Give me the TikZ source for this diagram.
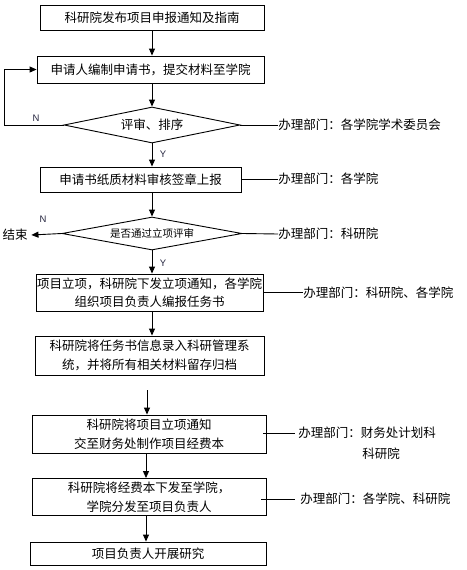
\documentclass[tikz,border=0pt]{standalone}
\usepackage{fontspec}
\setmainfont{Noto Sans CJK SC}
\newfontfamily\latinsf{Liberation Sans}
\usetikzlibrary{shapes.geometric,arrows.meta}
\definecolor{yncol}{rgb}{0.15,0.15,0.25}
\begin{document}
\begin{tikzpicture}[x=1pt,y=-1pt, line width=0.9pt,
 box/.style={draw, rectangle, inner sep=0pt, align=center, font=\fontsize{12.5}{18.5}\selectfont},
 dia/.style={draw, diamond, inner sep=0pt, aspect=4.9},
 lab/.style={anchor=west, inner sep=0pt, font=\fontsize{12.5}{15}\selectfont},
 yn/.style={inner sep=0pt, text=yncol, font=\latinsf\fontsize{9.5}{9.5}\selectfont},
 arr/.style={-{Triangle[length=7pt,width=6pt]}}
]
\useasboundingbox (0,0) rectangle (466,570);

% main boxes
\node[box, minimum width=224pt, minimum height=25pt] (b1) at (152,17.5) {科研院发布项目申报通知及指南};
\node[box, minimum width=227pt, minimum height=27pt] (b2) at (150.5,69.5) {申请人编制申请书，提交材料至学院};
\node[dia, minimum width=176pt, minimum height=36pt, font=\fontsize{12.5}{15}\selectfont] (d1) at (152,125) {评审、排序};
\node[box, minimum width=201pt, minimum height=25pt] (b3) at (140.5,179.5) {申请书纸质材料审核签章上报};
\node[dia, minimum width=180pt, minimum height=33pt, font=\fontsize{10.5}{12}\selectfont] (d2) at (152,233.5) {是否通过立项评审};
\node[box, minimum width=227pt, minimum height=37pt] (b4) at (149.5,292.5) {项目立项，科研院下发立项通知，各学院\\组织项目负责人编报任务书};
\node[box, minimum width=229pt, minimum height=39pt] (b5) at (149.5,355.5) {科研院将任务书信息录入科研管理系\\统，并将所有相关材料留存归档};
\node[box, minimum width=234pt, minimum height=38pt] (b6) at (149,434) {科研院将项目立项通知\\交至财务处制作项目经费本};
\node[box, minimum width=234pt, minimum height=37pt] (b7) at (149,497) {科研院将经费本下发至学院，\\学院分发至项目负责人};
\node[box, minimum width=236pt, minimum height=23pt] (b8) at (148,553.5) {项目负责人开展研究};

% end node
\node[inner xsep=3.5pt, inner ysep=0pt, font=\fontsize{12.5}{15}\selectfont] (end) at (15,235) {结束};

% side labels
\node[lab] (l1) at (278,125) {办理部门：各学院学术委员会};
\node[lab] (l3) at (278,179) {办理部门：各学院};
\node[lab] (l4) at (278,234) {办理部门：科研院};
\node[lab] (l5) at (303,293) {办理部门：科研院、各学院};
\node[lab] (l6) at (298,433) {办理部门：财务处计划科};
\node[lab] (l6b) at (362,454) {科研院};
\node[lab] (l7) at (300,499) {办理部门：各学院、科研院};

% Y/N labels
\node[yn] (n1) at (36,118) {N};
\node[yn] (y1) at (163,154) {Y};
\node[yn] (n2) at (43,219) {N};
\node[yn] (y2) at (163,263) {Y};

% helper coordinates
\coordinate (c45) at (152,311);
\coordinate (c56) at (147,390);
\coordinate (c67) at (146,453);
\coordinate (c78) at (146,515.5);
\coordinate (cl) at (4,125);

% connectors
\draw[arr] (b1.south) -- (b1.south |- b2.north);
\draw[arr] (d1.north |- b2.south) -- (d1.north);
\draw[arr] (d1.south) -- (d1.south |- b3.north);
\draw[arr] (d2.north |- b3.south) -- (d2.north);
\draw[arr] (d2.south) -- (d2.south |- b4.north);
\draw[arr] (c45) -- (c45 |- b5.north);
\draw[arr] (c56) -- (c56 |- b6.north);
\draw[arr] (c67) -- (c67 |- b7.north);
\draw[arr] (c78) -- (c78 |- b8.north);
\draw[arr] (d1.west) -- (cl) -- (cl |- b2.west) -- (b2.west);
\draw[arr] (d2.west) -- (end.east);

\draw (d1.east) -- (l1.west);
\draw (b3.east) -- (b3.east -| l3.west);
\draw (d2.east) -- (l4.west);
\draw (b4.east) -- (b4.east -| l5.west);
\draw ([xshift=-3pt]l6.west -| b6.east) -- ([xshift=-3pt]l6.west);
\draw ([xshift=-5pt]l7.west -| b7.east) -- ([xshift=-5pt]l7.west);
\end{tikzpicture}
\end{document}
